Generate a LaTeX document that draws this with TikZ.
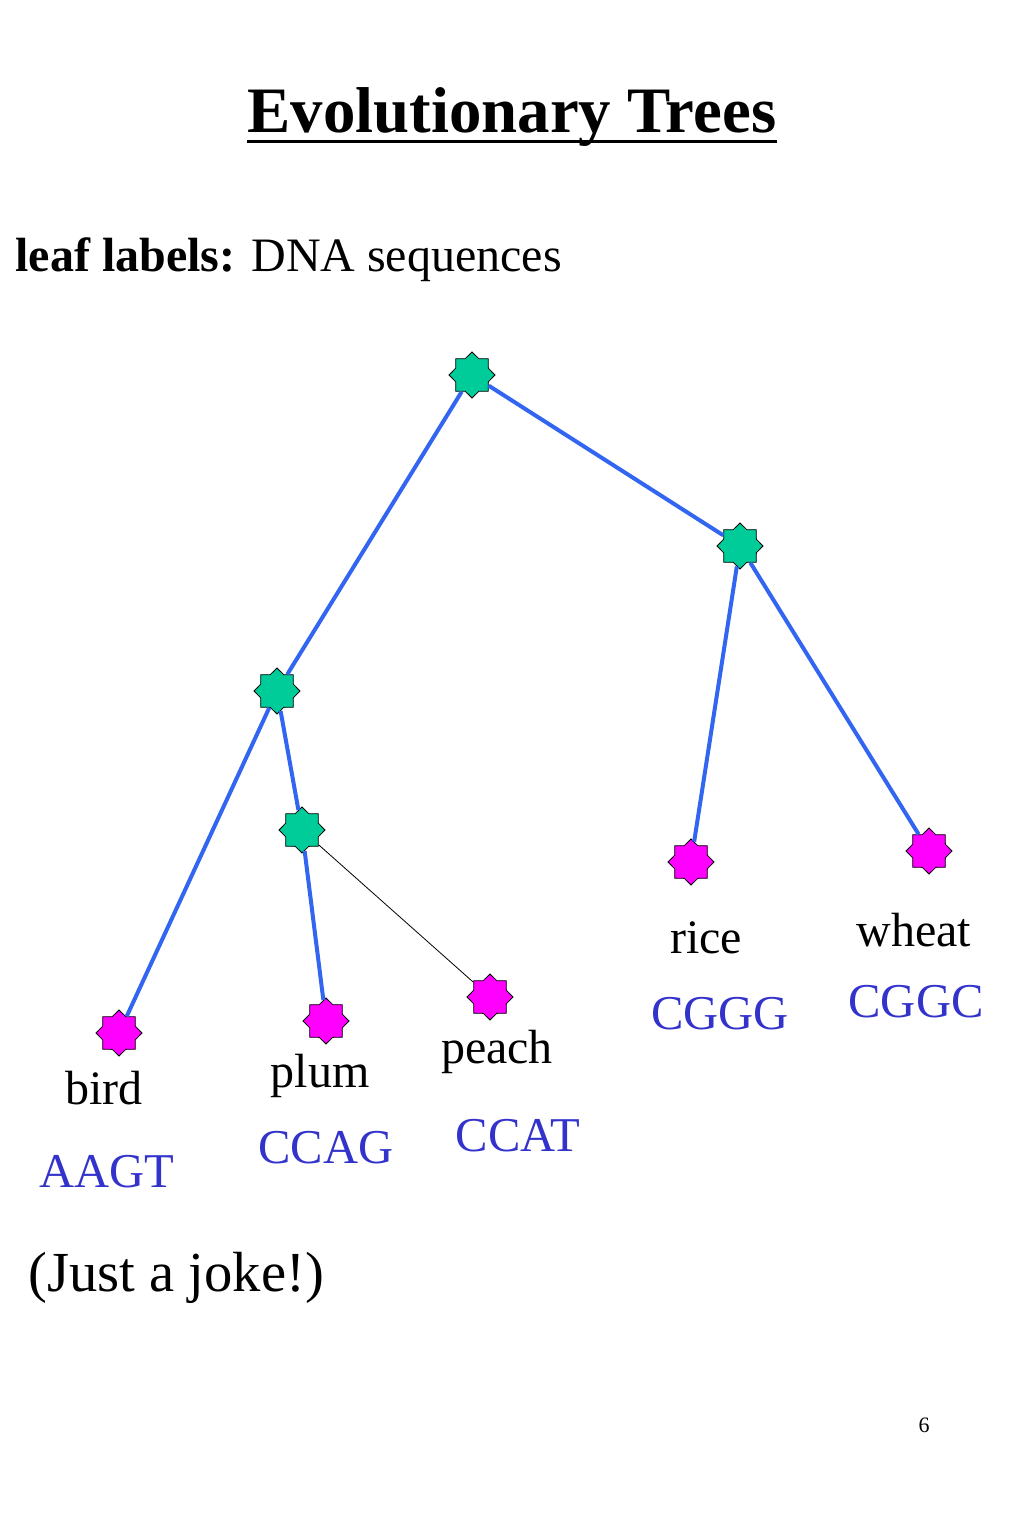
\documentclass[tikz,border=0pt]{standalone}
\usepackage{fontspec}
\setmainfont{Liberation Serif}
\usetikzlibrary{shapes}
\definecolor{branchblue}{RGB}{51,102,240}
\definecolor{seqblue}{RGB}{51,51,204}
\definecolor{innergreen}{RGB}{0,204,153}
\definecolor{leafpink}{RGB}{255,0,255}
\tikzset {
    style inner/.style={
        star,
        star points=8,
        star point ratio=1.3,
        minimum size=23pt,
        inner sep=0pt,
        fill=innergreen,
        draw=black,
        thin,
    },
    style leaf/.style={
        star,
        star points=8,
        star point ratio=1.3,
        minimum size=23pt,
        inner sep=0pt,
        fill=leafpink,
        draw=black,
        thin,
    },
    style branch/.style={
        draw=branchblue,
        line width=2pt,
    },
    style name/.style={
        font=\fontsize{24}{28}\selectfont,
        inner sep=0pt,
    },
    style seq/.style={
        font=\fontsize{24.3}{28}\selectfont,
        text=seqblue,
        inner sep=0pt,
    },
}
\begin{document}
\begin{tikzpicture}
        [x=0.5pt, y=-0.5pt]
        \useasboundingbox (0,0) rectangle (1024,1536);
        % heading
        \node[inner sep=0pt] (title) at (512,117) {\fontsize{32.4}{38}\selectfont\bfseries Evolutionary Trees};
        \draw[line width=1.6pt] ([yshift=-4.5pt]title.base west) -- ([yshift=-4.5pt]title.base east);
        \node[anchor=west, inner sep=0pt, font=\fontsize{24}{28}\selectfont] (sub) at (15,260) {\textbf{leaf labels:} DNA sequences};
        % tree
        \node[style inner] (root) at (472,375) {};
        \node[style inner] (right) at (740,546) {};
        \node[style inner] (left) at (277,691) {};
        \node[style inner] (mid) at (302,830) {};
        \node[style leaf] (bird) at (119,1033) {};
        \node[style leaf] (plum) at (326,1021) {};
        \node[style leaf] (peach) at (490,997) {};
        \node[style leaf] (rice) at (691,862) {};
        \node[style leaf] (wheat) at (929,851) {};
        \draw[style branch] (root) -- (left);
        \draw[style branch] (root) -- (right);
        \draw[style branch] (left) -- (bird);
        \draw[style branch] (left) -- (mid);
        \draw[style branch] (mid) -- (plum);
        \draw[black, thin] (mid) -- (peach);
        \draw[style branch] (right) -- (rice);
        \draw[style branch] (right) -- (wheat);
        % labels
        \node[style name] (birdname) at (104,1088) {bird};
        \node[style seq] (birdseq) at (107,1172) {AAGT};
        \node[style name] (plumname) at (320,1076) {plum};
        \node[style seq] (plumseq) at (326,1148) {CCAG};
        \node[style name] (peachname) at (497,1052) {peach};
        \node[style seq] (peachseq) at (518,1136) {CCAT};
        \node[style name] (ricename) at (706,938) {rice};
        \node[style seq] (riceseq) at (720,1014) {CGGG};
        \node[style name] (wheatname) at (914,930) {wheat};
        \node[style seq] (wheatseq) at (916,1002) {CGGC};
        \node[anchor=west, inner sep=0pt, font=\fontsize{28.3}{33}\selectfont] (joke) at (28,1278) {(Just a joke!)};
        \node[inner sep=0pt, font=\fontsize{11}{13}\selectfont] (page) at (924,1425) {6};
    \end{tikzpicture}
\end{document}
